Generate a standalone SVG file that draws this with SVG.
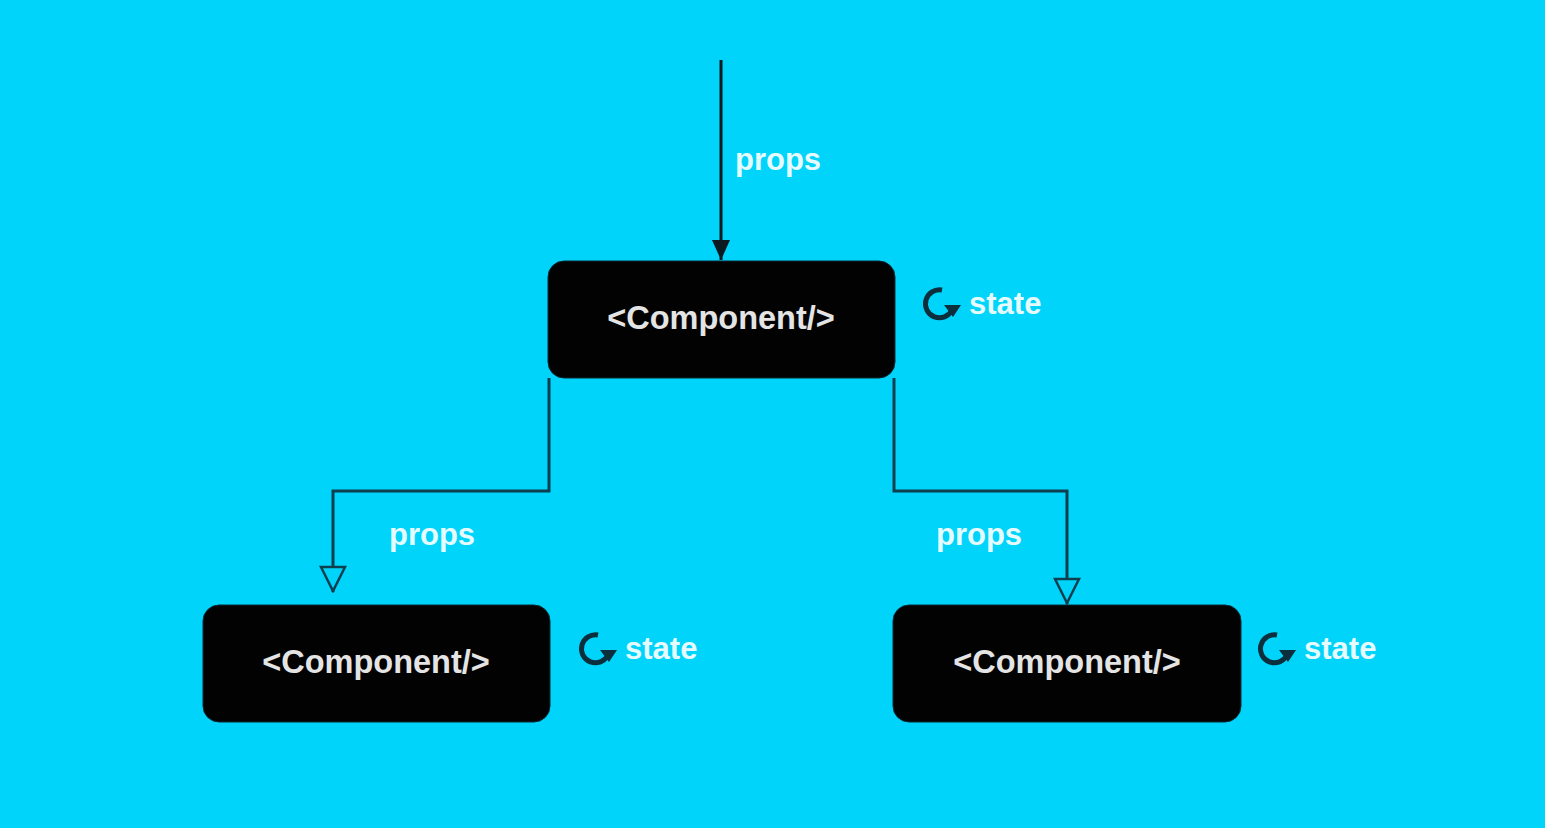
<svg xmlns="http://www.w3.org/2000/svg" width="1545" height="828" viewBox="0 0 1545 828">
  <defs>
    <style>
      .node rect { fill: #020202; stroke: #0a2a33; stroke-width: 1; }
      .node text { font-family: "Liberation Sans", Arial, sans-serif; font-weight: bold; font-size: 32.5px; fill: #e4e4e4; text-anchor: middle; }
      .lbl { font-family: "Liberation Sans", Arial, sans-serif; font-weight: bold; font-size: 31px; fill: #e6fbff; }
      .conn { fill: none; stroke: #0d3f4f; stroke-width: 3; }
      .icon { fill: none; stroke: #0b2f3c; stroke-width: 5; }
      .iconhead { fill: #0b2f3c; }
    </style>
    <marker id="filled" viewBox="0 0 20 18" refX="20" refY="9" markerWidth="20" markerHeight="18" markerUnits="userSpaceOnUse" orient="auto">
      <path d="M0,0 L20,9 L0,18 Z" fill="#0a1a20"/>
    </marker>
    <marker id="open" viewBox="0 0 28 28" refX="14" refY="27" markerWidth="28" markerHeight="28" markerUnits="userSpaceOnUse" orient="0">
      <path d="M2,2 L26,2 L14,26 Z" fill="#00d4fa" stroke="#0d3f4f" stroke-width="2.5"/>
    </marker>
    <g id="stateicon">
      <path class="icon" d="M3,-14 A14,14 0 1 0 13,6"/>
      <path class="iconhead" d="M5,1 L22,1 L14,13 Z"/>
    </g>
  </defs>

  <rect x="0" y="0" width="1545" height="828" fill="#00d4fa"/>

  <g id="connectors">
    <line x1="721" y1="60" x2="721" y2="260" stroke="#0a1a20" stroke-width="3" marker-end="url(#filled)"/>
    <polyline class="conn" points="549,378 549,491 333,491 333,592" marker-end="url(#open)"/>
    <polyline class="conn" points="894,378 894,491 1067,491 1067,604" marker-end="url(#open)"/>
  </g>

  <g id="label-props-top"><text class="lbl" x="735" y="170">props</text></g>
  <g id="label-props-left"><text class="lbl" x="389" y="545">props</text></g>
  <g id="label-props-right"><text class="lbl" x="936" y="545">props</text></g>

  <g id="node-top" class="node">
    <rect x="548" y="261" width="347" height="117" rx="16"/>
    <text x="721" y="329">&lt;Component/&gt;</text>
  </g>
  <g id="node-left" class="node">
    <rect x="203" y="605" width="347" height="117" rx="16"/>
    <text x="376" y="673">&lt;Component/&gt;</text>
  </g>
  <g id="node-right" class="node">
    <rect x="893" y="605" width="348" height="117" rx="16"/>
    <text x="1067" y="673">&lt;Component/&gt;</text>
  </g>

  <g id="state-top">
    <use href="#stateicon" x="939" y="304"/>
    <text class="lbl" x="969" y="314">state</text>
  </g>
  <g id="state-left">
    <use href="#stateicon" x="595" y="649"/>
    <text class="lbl" x="625" y="659">state</text>
  </g>
  <g id="state-right">
    <use href="#stateicon" x="1274" y="649"/>
    <text class="lbl" x="1304" y="659">state</text>
  </g>
</svg>
